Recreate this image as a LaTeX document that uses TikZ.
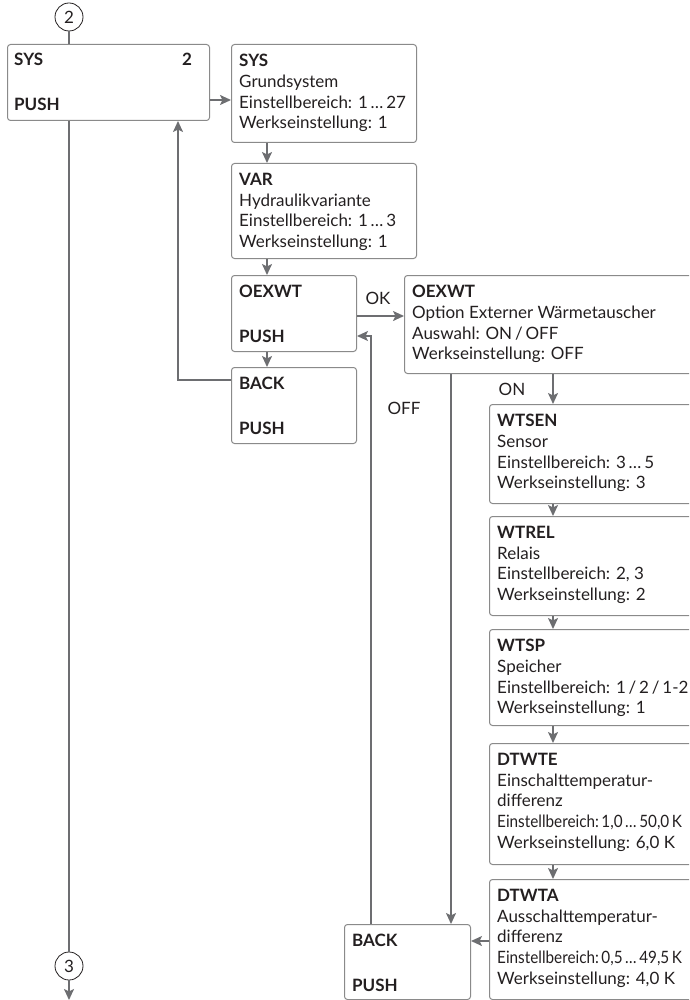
\documentclass[tikz,border=0pt]{standalone}
\usepackage{fontspec}
\setmainfont{Lato}
\usetikzlibrary{arrows.meta}
\definecolor{lineg}{HTML}{6D6E71}
\definecolor{boxg}{HTML}{8A8A8A}
\definecolor{txt}{HTML}{231F20}
\tikzset{
  box/.style={draw=boxg, line width=1pt, rounded corners=3pt, rectangle, anchor=north west, inner sep=0pt},
  tx/.style={anchor=north west, align=left, inner sep=0pt, text=txt, font=\fontsize{17}{20.7}\selectfont},
  lbl/.style={inner sep=0pt, text=txt, font=\fontsize{17}{18}\selectfont},
  conn/.style={draw=lineg, line width=1.8pt},
  arr/.style={conn, -{Stealth[length=11pt, width=10pt, inset=2.5pt]}},
  circ/.style={circle, draw=txt, line width=0.8pt, minimum size=28pt, inner sep=0pt, text=txt, font=\fontsize{17}{18}\selectfont},
}
\newcommand{\cond}[1]{\scalebox{0.9}[1]{#1}}
\begin{document}
\begin{tikzpicture}[x=1pt,y=-1pt]
\useasboundingbox (0,0) rectangle (689,1000);
\clip (0,0) rectangle (689,1000);
% circles
\node[circ] (c2) at (69,17) {2};
\node[circ] (c3) at (69,966) {3};
% main box
\node[box, minimum width=202pt, minimum height=76pt] (main) at (7,44) {};
\node[tx] (mainT) at (14,53) {\textbf{SYS}\\[24pt]\textbf{PUSH}};
\node[lbl, font=\bfseries\fontsize{17}{18}\selectfont] (main2) at (187,59) {2};
% column 1
\node[box, minimum width=185pt, minimum height=98pt] (sys) at (231,44) {};
\node[tx] (sysT) at (239,54) {\textbf{SYS}\\Grundsystem\\Einstellbereich: 1\,…\,27\\Werkseinstellung: 1};
\node[box, minimum width=185pt, minimum height=95pt] (var) at (231,163) {};
\node[tx] (varT) at (239,173) {\textbf{VAR}\\Hydraulikvariante\\Einstellbereich: 1\,…\,3\\Werkseinstellung: 1};
\node[box, minimum width=125pt, minimum height=76pt] (oex) at (231,275) {};
\node[tx] (oexT) at (239,285) {\textbf{OEXWT}\\[24pt]\textbf{PUSH}};
\node[box, minimum width=125pt, minimum height=76pt] (back1) at (231,367) {};
\node[tx] (back1T) at (239,377) {\textbf{BACK}\\[24pt]\textbf{PUSH}};
% column 2
\node[box, minimum width=320pt, minimum height=98pt] (oex2) at (404,275) {};
\node[tx] (oex2T) at (412,285) {\textbf{OEXWT}\\Option Externer Wärmetauscher\\Auswahl: ON\,/\,OFF\\Werkseinstellung: OFF};
\node[box, minimum width=240pt, minimum height=99pt] (wtsen) at (489,404) {};
\node[tx] (wtsenT) at (497,414) {\textbf{WTSEN}\\Sensor\\Einstellbereich: 3\,…\,5\\Werkseinstellung: 3};
\node[box, minimum width=240pt, minimum height=99pt] (wtrel) at (489,516) {};
\node[tx] (wtrelT) at (497,526) {\textbf{WTREL}\\Relais\\Einstellbereich: 2, 3\\Werkseinstellung: 2};
\node[box, minimum width=240pt, minimum height=96pt] (wtsp) at (489,629) {};
\node[tx] (wtspT) at (497,639) {\textbf{WTSP}\\Speicher\\Einstellbereich: 1\,/\,2\,/\,1-2\\Werkseinstellung: 1};
\node[box, minimum width=240pt, minimum height=121pt] (dtwte) at (489,743) {};
\node[tx] (dtwteT) at (497,753) {\textbf{DTWTE}\\Einschalttemperatur-\\differenz\\\cond{Einstellbereich:\,1,0\,…\,50,0\,K}\\Werkseinstellung: 6,0 K};
\node[box, minimum width=240pt, minimum height=120pt] (dtwta) at (489,879) {};
\node[tx] (dtwtaT) at (497,889) {\textbf{DTWTA}\\Ausschalttemperatur-\\differenz\\\cond{Einstellbereich:\,0,5\,…\,49,5\,K}\\Werkseinstellung: 4,0 K};
\node[box, minimum width=126pt, minimum height=75pt] (back2) at (344,924) {};
\node[tx] (back2T) at (352,934) {\textbf{BACK}\\[24pt]\textbf{PUSH}};
% labels
\node[lbl] (ok) at (378,298) {OK};
\node[lbl] (off) at (404,408) {OFF};
\node[lbl] (on) at (512,389) {ON};
% connectors
\draw[conn] (c2.south) -- (c2.south |- main.north);
\draw[conn] (main.south -| c3.north) -- (c3.north);
\coordinate (endbot) at (69,1000);
\draw[arr] (c3.south) -- (endbot);
\draw[arr] (main.east |- 0,100) -- (sys.west |- 0,100);
\draw[arr] (sys.south -| 267,0) -- (var.north -| 267,0);
\draw[arr] (var.south -| 267,0) -- (oex.north -| 267,0);
\draw[arr] (oex.south -| 267,0) -- (back1.north -| 267,0);
\draw[arr] (back1.west |- 0,380) -| (main.south -| 178,0);
\draw[arr] (oex.east |- 0,316) -- (oex2.west |- 0,316);
\draw[arr] (back2.north -| 371,0) |- (oex.east |- 0,336);
\draw[arr] (oex2.south -| 451,0) -- (back2.north -| 451,0);
\draw[arr] (oex2.south -| 553,0) -- (wtsen.north -| 553,0);
\draw[arr] (wtsen.south -| 553,0) -- (wtrel.north -| 553,0);
\draw[arr] (wtrel.south -| 553,0) -- (wtsp.north -| 553,0);
\draw[arr] (wtsp.south -| 553,0) -- (dtwte.north -| 553,0);
\draw[arr] (dtwte.south -| 553,0) -- (dtwta.north -| 553,0);
\draw[arr] (dtwta.west |- 0,941) -- (back2.east |- 0,941);
\end{tikzpicture}
\end{document}
